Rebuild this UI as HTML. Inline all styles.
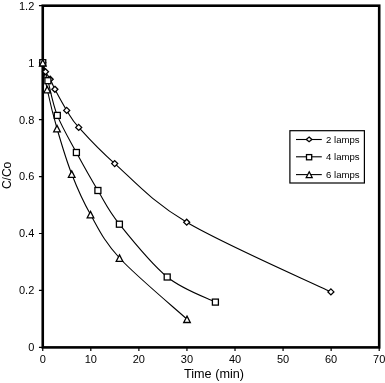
<!DOCTYPE html><html><head><meta charset="utf-8"><style>html,body{margin:0;padding:0;background:#fff;}svg{display:block;filter:grayscale(1);}text{font-family:"Liberation Sans",sans-serif;fill:#000;} .m{fill:#fff;stroke:#000;stroke-width:1.3;} .ln{fill:none;stroke:#000;stroke-width:1.1;}</style></head><body>
<svg width="385" height="383" viewBox="0 0 385 383">
<rect width="385" height="383" fill="#fff"/>
<path d="M42.75,347.40 V350.90 M90.81,347.40 V350.90 M138.88,347.40 V350.90 M186.94,347.40 V350.90 M235.01,347.40 V350.90 M283.07,347.40 V350.90 M331.14,347.40 V350.90 M379.20,347.40 V350.90 M38.95,347.40 H42.75 M38.95,290.45 H42.75 M38.95,233.50 H42.75 M38.95,176.55 H42.75 M38.95,119.60 H42.75 M38.95,62.65 H42.75 M38.95,5.70 H42.75" stroke="#000" stroke-width="1.2" fill="none"/>
<rect x="42.75" y="5.70" width="336.45" height="341.70" fill="none" stroke="#000" stroke-width="2.6"/>
<text x="42.75" y="362.80" font-size="11" text-anchor="middle">0</text>
<text x="90.81" y="362.80" font-size="11" text-anchor="middle">10</text>
<text x="138.88" y="362.80" font-size="11" text-anchor="middle">20</text>
<text x="186.94" y="362.80" font-size="11" text-anchor="middle">30</text>
<text x="235.01" y="362.80" font-size="11" text-anchor="middle">40</text>
<text x="283.07" y="362.80" font-size="11" text-anchor="middle">50</text>
<text x="331.14" y="362.80" font-size="11" text-anchor="middle">60</text>
<text x="379.20" y="362.80" font-size="11" text-anchor="middle">70</text>
<text x="34.30" y="351.30" font-size="11" text-anchor="end">0</text>
<text x="34.30" y="294.35" font-size="11" text-anchor="end">0.2</text>
<text x="34.30" y="237.40" font-size="11" text-anchor="end">0.4</text>
<text x="34.30" y="180.45" font-size="11" text-anchor="end">0.6</text>
<text x="34.30" y="123.50" font-size="11" text-anchor="end">0.8</text>
<text x="34.30" y="66.55" font-size="11" text-anchor="end">1</text>
<text x="34.30" y="9.60" font-size="11" text-anchor="end">1.2</text>
<text x="214.0" y="378.3" font-size="12" text-anchor="middle" textLength="60.0" lengthAdjust="spacingAndGlyphs">Time (min)</text>
<text transform="translate(10.9,175.4) rotate(-90)" x="0" y="0" font-size="12" text-anchor="middle">C/Co</text>
<path d="M42.75,62.70 C43.21,64.20 44.26,68.95 45.50,71.70 C46.74,74.45 48.63,76.27 50.20,79.20 C51.77,82.13 52.15,84.10 54.90,89.30 C57.65,94.50 62.73,104.05 66.70,110.40 C70.67,116.75 70.70,118.53 78.70,127.40 C86.70,136.27 96.70,147.80 114.70,163.60 C132.70,179.40 150.67,200.82 186.70,222.20 C222.73,243.58 306.87,280.28 330.90,291.90" class="ln"/>
<path d="M42.75,62.70 C43.61,65.70 45.48,71.92 47.90,80.70 C50.32,89.48 52.55,103.43 57.30,115.40 C62.05,127.37 69.63,139.98 76.40,152.50 C83.17,165.02 90.73,178.55 97.90,190.50 C105.07,202.45 107.85,209.78 119.40,224.20 C130.95,238.62 151.20,264.02 167.20,277.00 C183.20,289.98 207.37,297.92 215.40,302.10" class="ln"/>
<path d="M42.75,62.70 C43.49,67.17 44.83,78.53 47.20,89.50 C49.58,100.47 52.92,114.42 57.00,128.50 C61.08,142.58 66.12,159.67 71.70,174.00 C77.28,188.33 82.53,200.50 90.50,214.50 C98.47,228.50 103.42,240.55 119.50,258.00 C135.58,275.45 175.75,309.00 187.00,319.20" class="ln"/>
<path d="M42.75,59.70 L45.75,62.70 L42.75,65.70 L39.75,62.70 Z" class="m"/>
<path d="M45.50,68.70 L48.50,71.70 L45.50,74.70 L42.50,71.70 Z" class="m"/>
<path d="M50.20,76.20 L53.20,79.20 L50.20,82.20 L47.20,79.20 Z" class="m"/>
<path d="M54.90,86.30 L57.90,89.30 L54.90,92.30 L51.90,89.30 Z" class="m"/>
<path d="M66.70,107.40 L69.70,110.40 L66.70,113.40 L63.70,110.40 Z" class="m"/>
<path d="M78.70,124.40 L81.70,127.40 L78.70,130.40 L75.70,127.40 Z" class="m"/>
<path d="M114.70,160.60 L117.70,163.60 L114.70,166.60 L111.70,163.60 Z" class="m"/>
<path d="M186.70,219.20 L189.70,222.20 L186.70,225.20 L183.70,222.20 Z" class="m"/>
<path d="M330.90,288.90 L333.90,291.90 L330.90,294.90 L327.90,291.90 Z" class="m"/>
<rect x="39.75" y="59.70" width="6.00" height="6.00" class="m"/>
<rect x="44.90" y="77.70" width="6.00" height="6.00" class="m"/>
<rect x="54.30" y="112.40" width="6.00" height="6.00" class="m"/>
<rect x="73.40" y="149.50" width="6.00" height="6.00" class="m"/>
<rect x="94.90" y="187.50" width="6.00" height="6.00" class="m"/>
<rect x="116.40" y="221.20" width="6.00" height="6.00" class="m"/>
<rect x="164.20" y="274.00" width="6.00" height="6.00" class="m"/>
<rect x="212.40" y="299.10" width="6.00" height="6.00" class="m"/>
<path d="M42.75,59.60 L46.05,66.00 L39.45,66.00 Z" class="m"/>
<path d="M47.20,86.40 L50.50,92.80 L43.90,92.80 Z" class="m"/>
<path d="M57.00,125.40 L60.30,131.80 L53.70,131.80 Z" class="m"/>
<path d="M71.70,170.90 L75.00,177.30 L68.40,177.30 Z" class="m"/>
<path d="M90.50,211.40 L93.80,217.80 L87.20,217.80 Z" class="m"/>
<path d="M119.50,254.90 L122.80,261.30 L116.20,261.30 Z" class="m"/>
<path d="M187.00,316.10 L190.30,322.50 L183.70,322.50 Z" class="m"/>
<rect x="289.9" y="130.7" width="74.5" height="52.3" fill="#fff" stroke="#000" stroke-width="1.2"/>
<path d="M296,139.50 H321.8" class="ln" stroke-width="1.2"/>
<path d="M309.10,137.10 L311.90,139.40 L309.10,141.70 L306.30,139.40 Z" class="m"/>
<text x="326.0" y="142.80" font-size="9.6">2 lamps</text>
<path d="M296,156.80 H321.8" class="ln" stroke-width="1.2"/>
<rect x="306.50" y="154.60" width="5.20" height="5.20" class="m"/>
<text x="326.0" y="160.10" font-size="9.6">4 lamps</text>
<path d="M296,174.60 H321.8" class="ln" stroke-width="1.2"/>
<path d="M309.20,171.81 L312.17,177.57 L306.23,177.57 Z" class="m"/>
<text x="326.0" y="177.90" font-size="9.6">6 lamps</text>
</svg></body></html>
